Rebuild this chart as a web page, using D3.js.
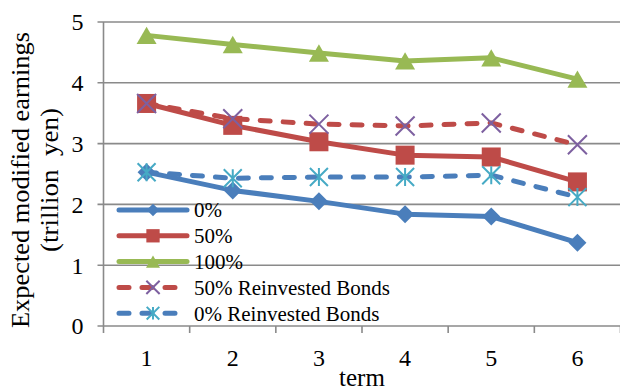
<!DOCTYPE html>
<html>
<head>
<meta charset="utf-8">
<script src="https://cdn.jsdelivr.net/npm/d3@7/dist/d3.min.js"></script>
<style>
  html, body { margin: 0; padding: 0; background: #fff; }
  svg { display: block; }
  text { font-family: "Liberation Serif", "Times New Roman", serif; fill: #000; }
</style>
</head>
<body>
<svg id="chart" width="620" height="390"></svg>
<script>
// Terms on the x axis
const terms = ["1", "2", "3", "4", "5", "6"];
// Expected modified earnings (trillion yen) per scenario
const pct0 = [2.53, 2.23, 2.05, 1.84, 1.80, 1.37];
const pct50 = [3.66, 3.30, 3.03, 2.81, 2.78, 2.37];
const pct100 = [4.78, 4.63, 4.49, 4.36, 4.41, 4.06];
const pct50Reinvested = [3.66, 3.41, 3.32, 3.29, 3.34, 2.98];
const pct0Reinvested = [2.53, 2.43, 2.45, 2.45, 2.48, 2.12];
const yTicks = [0, 1, 2, 3, 4, 5];
const seriesNames = ["0%", "50%", "100%", "50% Reinvested Bonds", "0% Reinvested Bonds"];
const yTitleLines = ["Expected modified earnings", "(trillion\u00a0\u00a0yen)"];

const series = [
  { name: seriesNames[0], values: pct0, line: "#4A7EBB", dashed: false, marker: "diamond", mfill: "#4A7EBB" },
  { name: seriesNames[1], values: pct50, line: "#BE4B48", dashed: false, marker: "square", mfill: "#BE4B48" },
  { name: seriesNames[2], values: pct100, line: "#98B954", dashed: false, marker: "triangle", mfill: "#98B954" },
  { name: seriesNames[3], values: pct50Reinvested, line: "#BE4B48", dashed: true, marker: "x", mfill: "#7D60A0" },
  { name: seriesNames[4], values: pct0Reinvested, line: "#4A7EBB", dashed: true, marker: "star", mfill: "#46AAC5" }
];

const svg = d3.select("#chart");
const plotLeft = 103.5, plotRight = 620.5, plotTop = 22, plotBottom = 326;

const x = d3.scaleBand().domain(terms).range([plotLeft, plotRight]).padding(0);
const y = d3.scaleLinear().domain([0, 5]).range([plotBottom, plotTop]);
const gridColor = "#8A8A8A";

// horizontal gridlines
svg.append("g").selectAll("line").data(yTicks).join("line")
  .attr("x1", plotLeft - 6).attr("x2", plotRight)
  .attr("y1", d => y(d)).attr("y2", d => y(d))
  .attr("stroke", gridColor).attr("stroke-width", 1.6);

// y axis line
svg.append("line")
  .attr("x1", plotLeft).attr("x2", plotLeft).attr("y1", plotTop).attr("y2", plotBottom)
  .attr("stroke", gridColor).attr("stroke-width", 1.6);

// x tick marks at category boundaries
const boundaries = terms.map(t => x(t)).concat([x.range()[1]]);
svg.append("g").selectAll("line").data(boundaries).join("line")
  .attr("x1", d => d).attr("x2", d => d)
  .attr("y1", plotBottom).attr("y2", plotBottom + 7)
  .attr("stroke", gridColor).attr("stroke-width", 1.6);

// y tick labels
const yAxis = d3.axisLeft(y).tickValues(yTicks).tickSize(0).tickPadding(20).tickFormat(d3.format("d"));
const gy = svg.append("g").attr("transform", `translate(${plotLeft},0)`).call(yAxis);
gy.select(".domain").remove();
gy.selectAll("text").style("font-size", "24px").attr("dy", "0.33em")
  .style("font-family", '"Liberation Serif", "Times New Roman", serif');

// x tick labels
const xAxis = d3.axisBottom(x).tickSize(0).tickPadding(23);
const gx = svg.append("g").attr("transform", `translate(0,${plotBottom})`).call(xAxis);
gx.select(".domain").remove();
gx.selectAll("text").style("font-size", "24px")
  .style("font-family", '"Liberation Serif", "Times New Roman", serif');

// axis titles
svg.append("text").attr("x", (plotLeft + plotRight) / 2).attr("y", 386)
  .attr("text-anchor", "middle").style("font-size", "25px").text("term");

// two-line rotated y title, each line fitted to its length
const yTitleLengths = [296, 144];
const yTitleOffsets = [29, 58];
yTitleLines.forEach((t, i) => {
  svg.append("text")
    .attr("transform", `translate(${yTitleOffsets[i]},180) rotate(-90)`)
    .attr("x", -yTitleLengths[i] / 2).attr("y", 0)
    .attr("textLength", yTitleLengths[i]).attr("lengthAdjust", "spacingAndGlyphs")
    .style("font-size", "25px").text(t);
});

// marker drawing
function drawMarker(g, type, color, s) {
  if (type === "diamond") {
    g.append("path").attr("d", `M0,${-s/2}L${s/2},0L0,${s/2}L${-s/2},0Z`).attr("fill", color);
  } else if (type === "square") {
    g.append("rect").attr("x", -s/2).attr("y", -s/2).attr("width", s).attr("height", s).attr("fill", color);
  } else if (type === "triangle") {
    const h = s * 0.87;
    g.append("path").attr("d", `M0,${-h/2}L${s/2},${h/2}L${-s/2},${h/2}Z`).attr("fill", color);
  } else if (type === "x") {
    const r = s / 2;
    g.append("path").attr("d", `M${-r},${-r}L${r},${r}M${-r},${r}L${r},${-r}`)
      .attr("stroke", color).attr("stroke-width", 2).attr("fill", "none");
  } else if (type === "star") {
    const r = s / 2;
    g.append("path").attr("d", `M${-r},${-r}L${r},${r}M${-r},${r}L${r},${-r}M0,${-r}L0,${r}`)
      .attr("stroke", color).attr("stroke-width", 2).attr("fill", "none");
  }
}
const markerSize = { diamond: 18, square: 19, triangle: 20, x: 19, star: 18 };

const line = d3.line().x((d, i) => x(terms[i]) + x.bandwidth() / 2).y(d => y(d));

series.forEach(s => {
  const g = svg.append("g");
  g.append("path").datum(s.values).attr("d", line)
    .attr("fill", "none").attr("stroke", s.line).attr("stroke-width", 5)
    .attr("stroke-linejoin", "round")
    .attr("stroke-linecap", s.dashed ? "round" : "butt")
    .attr("stroke-dasharray", s.dashed ? "10,13" : null);
  s.values.forEach((v, i) => {
    const mg = g.append("g").attr("transform", `translate(${x(terms[i]) + x.bandwidth() / 2},${y(v)})`);
    drawMarker(mg, s.marker, s.mfill, markerSize[s.marker]);
  });
});

// legend
const legend = svg.append("g");
const legendY0 = 210, legendStep = 25.8;
series.forEach((s, i) => {
  const ly = legendY0 + i * legendStep;
  const lg = legend.append("g");
  lg.append("line").attr("x1", 119).attr("x2", 187).attr("y1", ly).attr("y2", ly)
    .attr("stroke", s.line).attr("stroke-width", 5)
    .attr("stroke-linecap", "round")
    .attr("stroke-dasharray", s.dashed ? "10,13" : null);
  const mg = lg.append("g").attr("transform", `translate(153,${ly})`);
  drawMarker(mg, s.marker, s.mfill, markerSize[s.marker] * 0.7);
  lg.append("text").attr("x", 194).attr("y", ly).attr("dy", "0.35em")
    .style("font-size", "21px").text(s.name);
});
</script>
</body>
</html>
